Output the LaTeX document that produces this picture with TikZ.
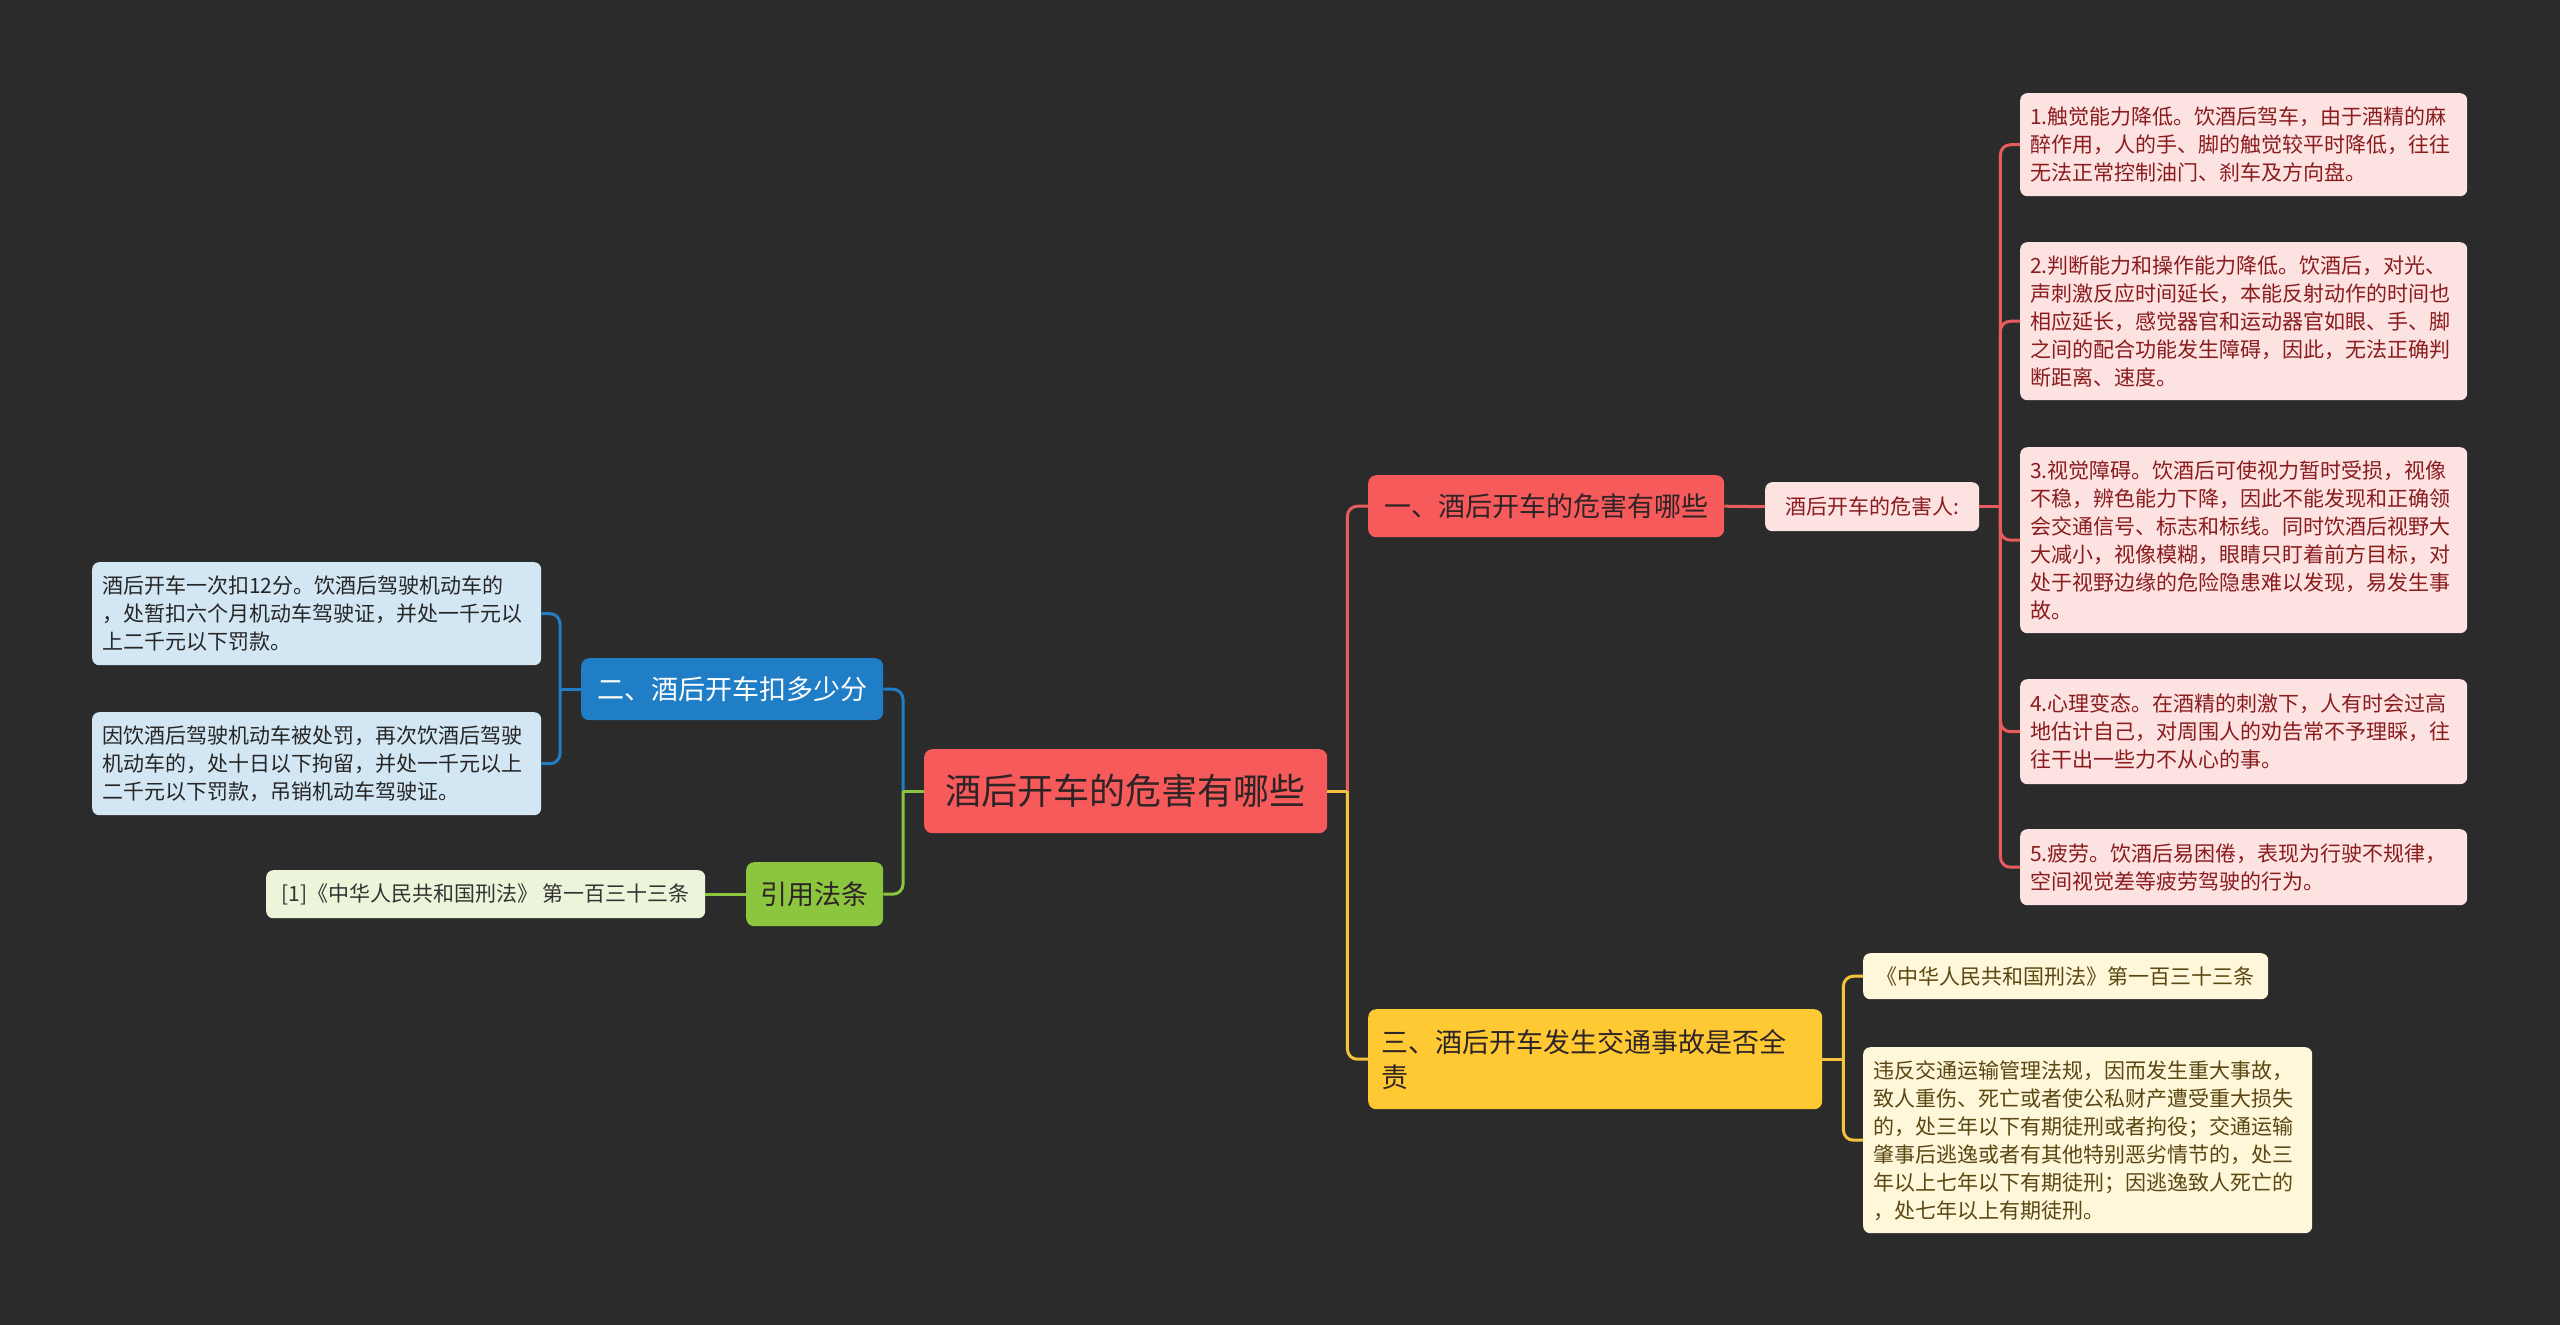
\documentclass[tikz,border=0pt]{standalone}
\usepackage{fontspec}
\setmainfont{Noto Sans CJK SC}
\usetikzlibrary{calc}
\definecolor{bg}{HTML}{2B2B2B}
\definecolor{redmain}{HTML}{F65A5B}
\definecolor{redline}{HTML}{E85C5E}
\definecolor{redleaf}{HTML}{FDE2E2}
\definecolor{redtext}{HTML}{8A1C1E}
\definecolor{darktext}{HTML}{2E2426}
\definecolor{bluemain}{HTML}{1F7EC6}
\definecolor{blueleaf}{HTML}{D3E6F3}
\definecolor{greenmain}{HTML}{8CC63E}
\definecolor{greenleaf}{HTML}{ECF5D9}
\definecolor{yelmain}{HTML}{FFC933}
\definecolor{yelline}{HTML}{F4C23C}
\definecolor{yelleaf}{HTML}{FFF7DA}
\definecolor{yeltext}{HTML}{5A4712}
\begin{document}
\begin{tikzpicture}[x=1pt,y=-1pt,
  box/.style={anchor=north west, rounded corners=7pt, inner xsep=10pt, inner ysep=0pt, align=left},
  cbox/.style={anchor=north west, rounded corners=8pt, inner sep=0pt, align=center},
  leaffont/.style={font=\fontsize{21}{28}\selectfont},
  brfont/.style={font=\fontsize{27}{35}\selectfont},
  rleaf/.style={box, leaffont, fill=redleaf, text=redtext},
  bleaf/.style={box, leaffont, fill=blueleaf, text=black!85},
  yleaf/.style={box, leaffont, fill=yelleaf, text=yeltext},
  conn/.style={line width=3pt, rounded corners=10pt},
  lnred/.style={conn, draw=redline},
  lnblue/.style={conn, draw=bluemain},
  lngreen/.style={conn, draw=greenmain},
  lnyel/.style={conn, draw=yelline}
]
\useasboundingbox (0,0) rectangle (2560,1325);
\fill[bg] (0,0) rectangle (2560,1325);

% central
\node[cbox, fill=redmain, text=darktext, minimum width=403pt, minimum height=84pt,
  font=\fontsize{36}{44}\selectfont] (c) at (924,749) {酒后开车的危害有哪些};

% branch 1
\node[cbox, brfont, fill=redmain, text=darktext, minimum width=356pt, minimum height=62pt] (b1) at (1368,475) {一、酒后开车的危害有哪些};
\node[cbox, leaffont, fill=redleaf, text=redtext, rounded corners=7pt, minimum width=214pt, minimum height=49pt] (h) at (1765,482) {酒后开车的危害人:};

\node[rleaf, text width=427pt, minimum height=103pt] (r1) at (2020,93) {1.触觉能力降低。饮酒后驾车，由于酒精的麻\\醉作用，人的手、脚的触觉较平时降低，往往\\无法正常控制油门、刹车及方向盘。};
\node[rleaf, text width=427pt, minimum height=158pt] (r2) at (2020,242) {2.判断能力和操作能力降低。饮酒后，对光、\\声刺激反应时间延长，本能反射动作的时间也\\相应延长，感觉器官和运动器官如眼、手、脚\\之间的配合功能发生障碍，因此，无法正确判\\断距离、速度。};
\node[rleaf, text width=427pt, minimum height=186pt] (r3) at (2020,447) {3.视觉障碍。饮酒后可使视力暂时受损，视像\\不稳，辨色能力下降，因此不能发现和正确领\\会交通信号、标志和标线。同时饮酒后视野大\\大减小，视像模糊，眼睛只盯着前方目标，对\\处于视野边缘的危险隐患难以发现，易发生事\\故。};
\node[rleaf, text width=427pt, minimum height=105pt] (r4) at (2020,679) {4.心理变态。在酒精的刺激下，人有时会过高\\地估计自己，对周围人的劝告常不予理睬，往\\往干出一些力不从心的事。};
\node[rleaf, text width=427pt, minimum height=76pt] (r5) at (2020,829) {5.疲劳。饮酒后易困倦，表现为行驶不规律，\\空间视觉差等疲劳驾驶的行为。};

% branch 2
\node[cbox, brfont, fill=bluemain, text=white, minimum width=302pt, minimum height=62pt] (b2) at (581,658) {二、酒后开车扣多少分};
\node[bleaf, text width=429pt, minimum height=103pt] (l1) at (92,562) {酒后开车一次扣12分。饮酒后驾驶机动车的\\，处暂扣六个月机动车驾驶证，并处一千元以\\上二千元以下罚款。};
\node[bleaf, text width=429pt, minimum height=103pt] (l2) at (92,712) {因饮酒后驾驶机动车被处罚，再次饮酒后驾驶\\机动车的，处十日以下拘留，并处一千元以上\\二千元以下罚款，吊销机动车驾驶证。};

% branch 4 (law)
\node[cbox, brfont, fill=greenmain, text=darktext, minimum width=137pt, minimum height=64pt] (b4) at (746,862) {引用法条};
\node[cbox, leaffont, fill=greenleaf, text=black!80, rounded corners=7pt, minimum width=439pt, minimum height=48pt] (g1) at (266,870) {[1]《中华人民共和国刑法》 第一百三十三条};

% branch 3
\node[box, brfont, fill=yelmain, text=darktext, rounded corners=8pt, inner xsep=13pt, text width=428pt, minimum height=100pt] (b3) at (1368,1009) {三、酒后开车发生交通事故是否全\\责};
\node[cbox, leaffont, fill=yelleaf, text=yeltext, rounded corners=7pt, minimum width=405pt, minimum height=46pt] (y1) at (1863,953) {《中华人民共和国刑法》第一百三十三条};
\node[yleaf, text width=429pt, minimum height=186pt] (y2) at (1863,1047) {违反交通运输管理法规，因而发生重大事故，\\致人重伤、死亡或者使公私财产遭受重大损失\\的，处三年以下有期徒刑或者拘役；交通运输\\肇事后逃逸或者有其他特别恶劣情节的，处三\\年以上七年以下有期徒刑；因逃逸致人死亡的\\，处七年以上有期徒刑。};

% junction coordinates
\coordinate (cR) at ($(c.east)+(20,0)$);
\coordinate (cL) at ($(c.west)+(-21,0)$);
\coordinate (b2L) at ($(b2.west)+(-21,0)$);
\coordinate (hR) at ($(h.east)+(21,0)$);
\coordinate (b3R) at ($(b3.east)+(21,0)$);

% connectors from centre
\draw[lnred] (cR) |- (b1.west);
\draw[lnyel] (cR) |- (b3.west);
\draw[lnyel, rounded corners=0pt] (c.east) -- (cR);
\draw[lnblue] (cL) |- (b2.east);
\draw[lngreen] (cL) |- (b4.east);
\draw[lngreen, rounded corners=0pt] (c.west) -- (cL);

% branch 1
\draw[lnred] (b1.east) -- (h.west);
\draw[lnred] (h.east) -- (hR);
\draw[lnred] (hR) |- (r1.west);
\draw[lnred] (hR) |- (r2.west);
\draw[lnred] (hR) |- (r3.west);
\draw[lnred] (hR) |- (r4.west);
\draw[lnred] (hR) |- (r5.west);

% branch 2
\draw[lnblue] (b2.west) -- (b2L);
\draw[lnblue] (b2L) |- (l1.east);
\draw[lnblue] (b2L) |- (l2.east);

% law
\draw[lngreen] (b4.west) -- (g1.east);

% branch 3
\draw[lnyel] (b3.east) -- (b3R);
\draw[lnyel] (b3R) |- (y1.west);
\draw[lnyel] (b3R) |- (y2.west);
\end{tikzpicture}
\end{document}
